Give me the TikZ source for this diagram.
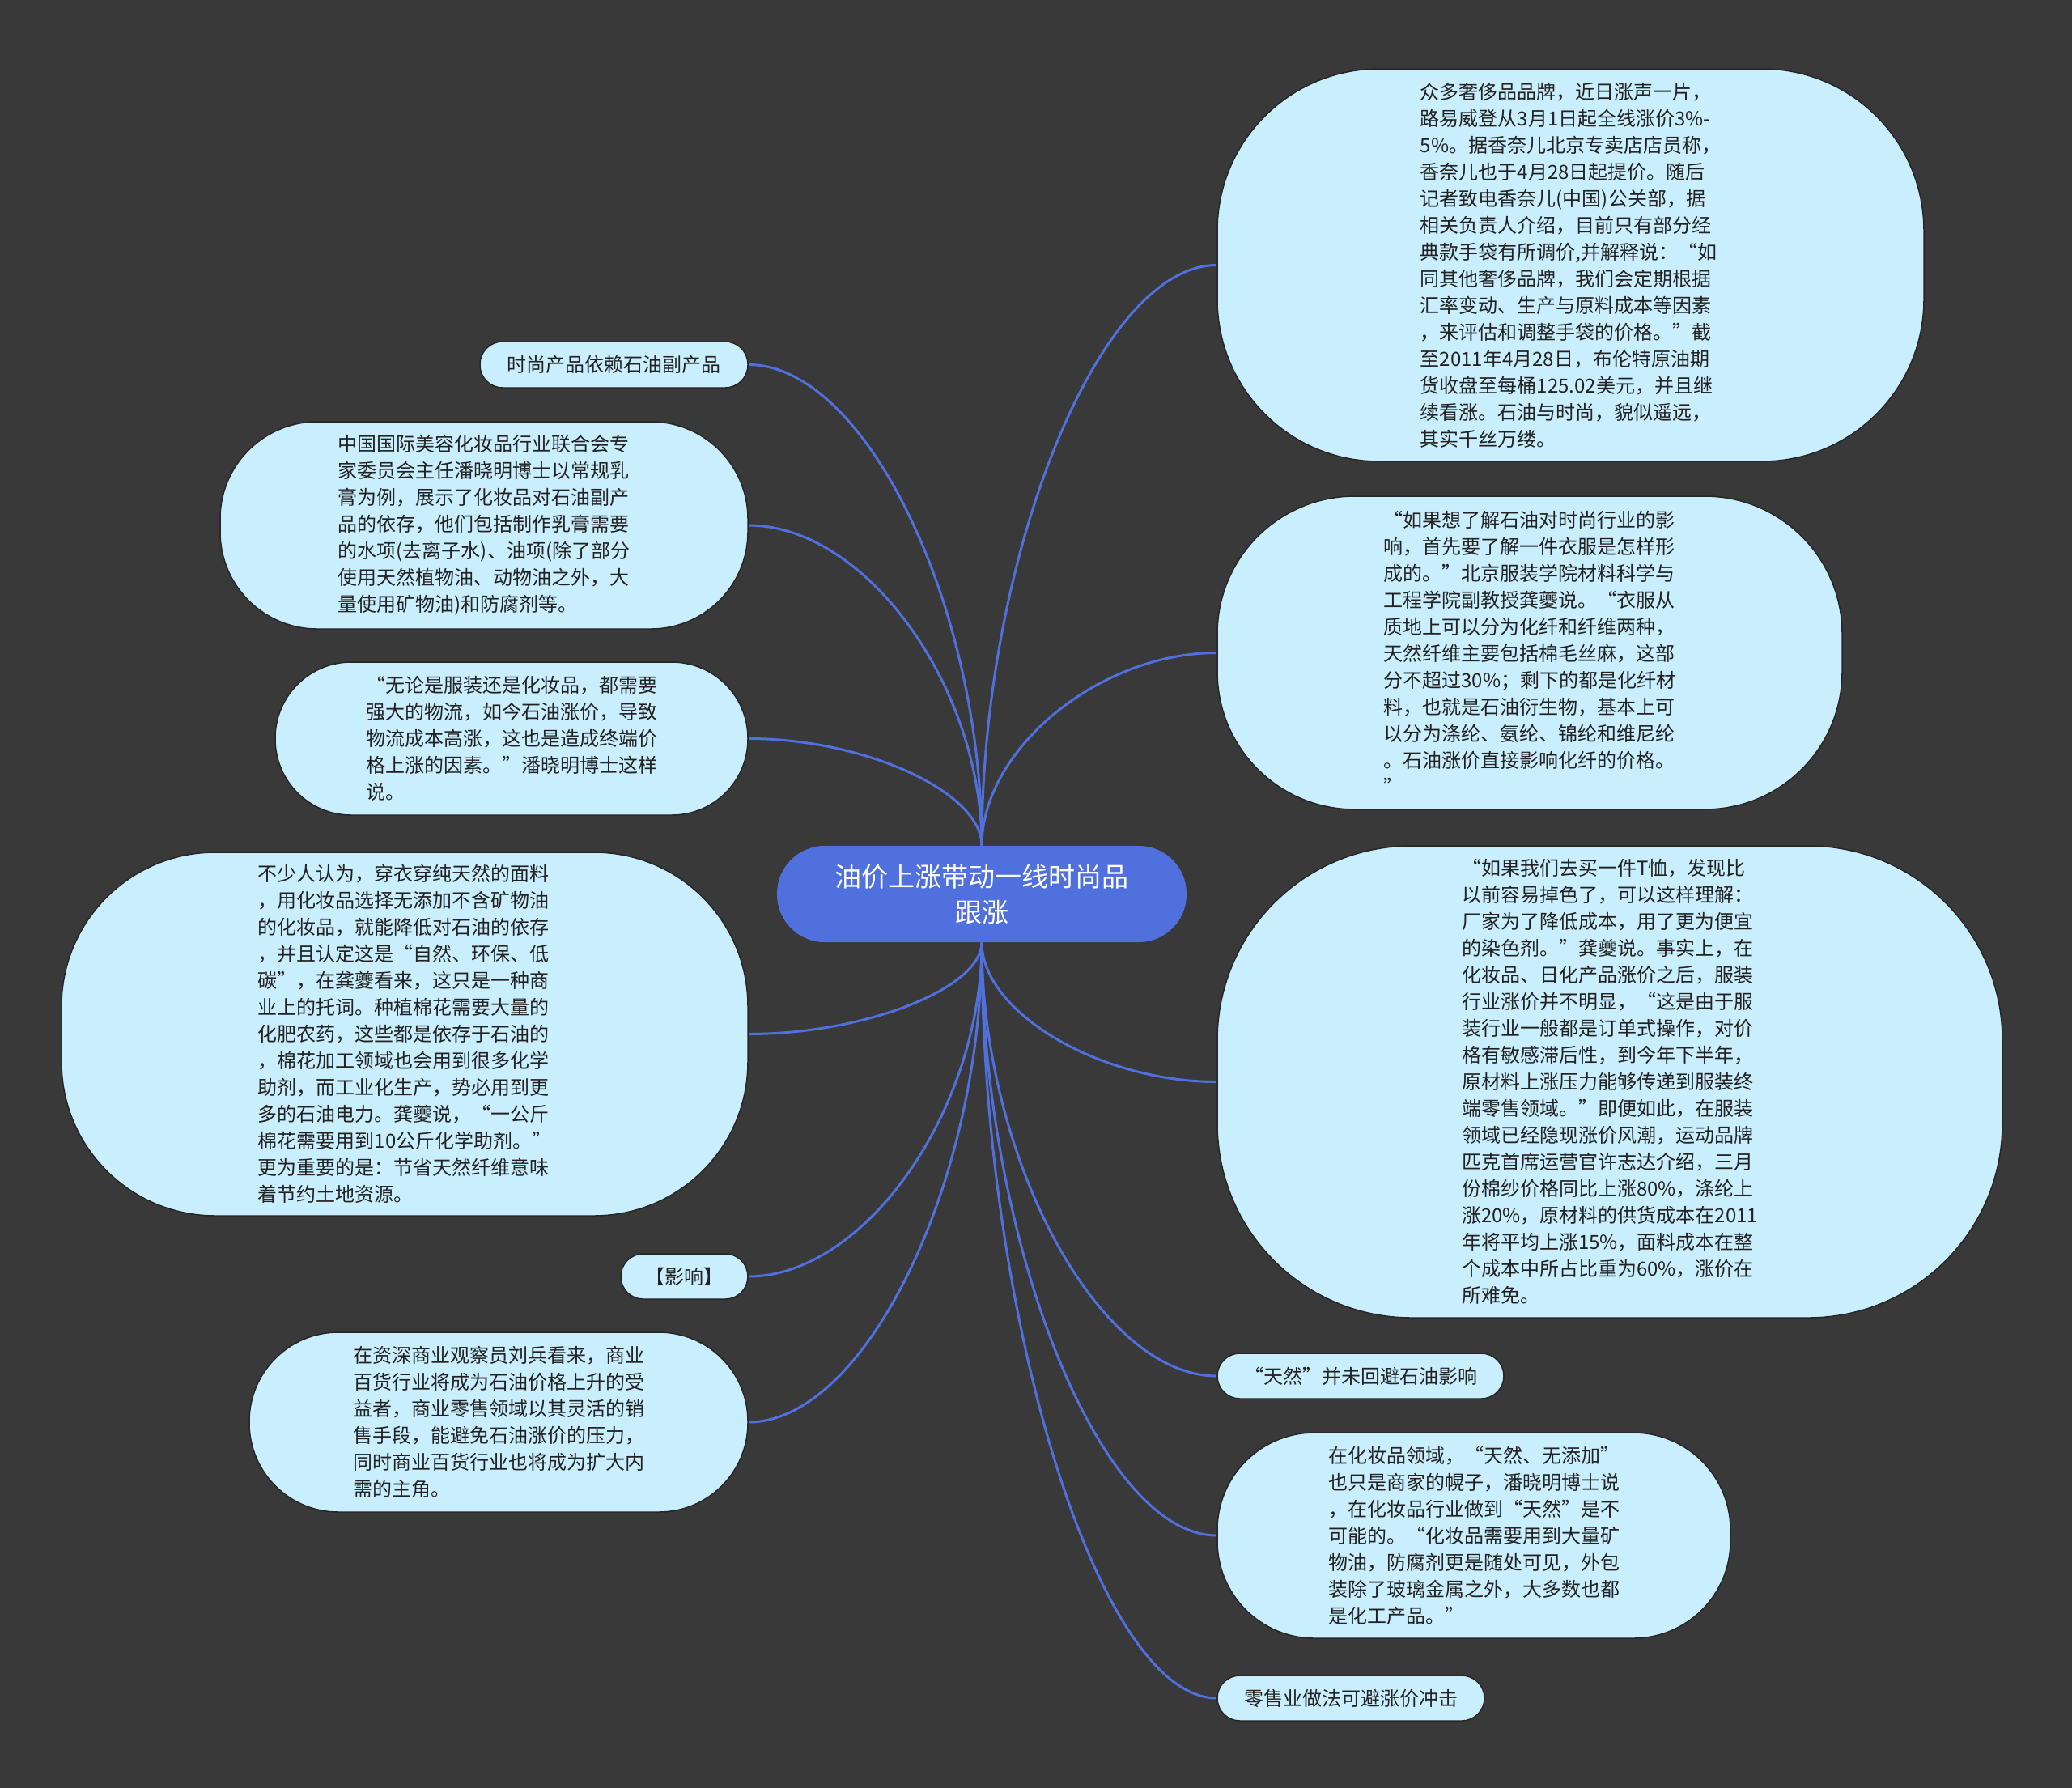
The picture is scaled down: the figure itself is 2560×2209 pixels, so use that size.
\documentclass[tikz,border=0pt]{standalone}
\usepackage{fontspec}
\setmainfont{Noto Sans CJK SC}
\usetikzlibrary{calc}
\pgfdeclarelayer{bg}
\pgfdeclarelayer{edges}
\pgfsetlayers{bg,edges,main}
\definecolor{bgc}{HTML}{3A3939}
\definecolor{nodefill}{HTML}{C9EEFD}
\definecolor{nodeline}{HTML}{262626}
\definecolor{mainblue}{HTML}{5071DD}
\definecolor{txt}{HTML}{222222}
\tikzset{
  box/.style={draw=nodeline, line width=1.5pt, fill=nodefill, text=txt, align=left, inner sep=0pt,
    font=\fontsize{24}{33}\selectfont},
  rootbox/.style={fill=mainblue, draw=none, text=white, align=center, inner sep=0pt,
    font=\fontsize{33}{44}\selectfont},
  conn/.style={draw=mainblue, line width=3pt}
}
\newcommand\mnode[7]{\node[box,minimum width=#4pt,minimum height=#5pt,rounded corners=#6pt] (#1) at (#2,#3) {#7};}
\newcommand\conn[2]{\draw[conn] (#1) .. controls ($(#1)!0.5!(#1 |- #2)$) and ($(#2)!0.5!(#1 |- #2)$) .. (#2);}
\begin{document}
\begin{tikzpicture}[x=1pt,y=-1pt]
\begin{pgfonlayer}{bg}
\fill[bgc] (0,0) rectangle (2560,2209);
\end{pgfonlayer}
\useasboundingbox (0,0) rectangle (2560,2209);

\node[rootbox, minimum width=506pt, minimum height=119pt, rounded corners=59pt] (c) at (1213,1104.5) {油价上涨带动一线时尚品\\跟涨};

\mnode{r1}{1940.5}{327.5}{873}{485}{200}{众多奢侈品品牌，近日涨声一片，\\路易威登从3月1日起全线涨价3\%-\\5\%。据香奈儿北京专卖店店员称，\\香奈儿也于4月28日起提价。随后\\记者致电香奈儿(中国)公关部，据\\相关负责人介绍，目前只有部分经\\典款手袋有所调价,并解释说：“如\\同其他奢侈品牌，我们会定期根据\\汇率变动、生产与原料成本等因素\\，来评估和调整手袋的价格。”截\\至2011年4月28日，布伦特原油期\\货收盘至每桶125.02美元，并且继\\续看涨。石油与时尚，貌似遥远，\\其实千丝万缕。}

\mnode{r2}{1890}{806.5}{772}{387}{170}{“如果想了解石油对时尚行业的影\\响，首先要了解一件衣服是怎样形\\成的。”北京服装学院材料科学与\\工程学院副教授龚夔说。“衣服从\\质地上可以分为化纤和纤维两种，\\天然纤维主要包括棉毛丝麻，这部\\分不超过30\%；剩下的都是化纤材\\料，也就是石油衍生物，基本上可\\以分为涤纶、氨纶、锦纶和维尼纶\\。石油涨价直接影响化纤的价格。\\”}

\mnode{r3}{1989}{1336.5}{970}{583}{240}{“如果我们去买一件T恤，发现比\\以前容易掉色了，可以这样理解：\\厂家为了降低成本，用了更为便宜\\的染色剂。”龚夔说。事实上，在\\化妆品、日化产品涨价之后，服装\\行业涨价并不明显，“这是由于服\\装行业一般都是订单式操作，对价\\格有敏感滞后性，到今年下半年，\\原材料上涨压力能够传递到服装终\\端零售领域。”即便如此，在服装\\领域已经隐现涨价风潮，运动品牌\\匹克首席运营官许志达介绍，三月\\份棉纱价格同比上涨80\%，涤纶上\\涨20\%，原材料的供货成本在2011\\年将平均上涨15\%，面料成本在整\\个成本中所占比重为60\%，涨价在\\所难免。}

\mnode{r4}{1681}{1700}{354}{56}{27.9}{“天然”并未回避石油影响}

\mnode{r5}{1821}{1897}{634}{254}{120}{在化妆品领域，“天然、无添加”\\也只是商家的幌子，潘晓明博士说\\，在化妆品行业做到“天然”是不\\可能的。“化妆品需要用到大量矿\\物油，防腐剂更是随处可见，外包\\装除了玻璃金属之外，大多数也都\\是化工产品。”}

\mnode{r6}{1669}{2098}{330}{56}{27.9}{零售业做法可避涨价冲击}

\mnode{l1}{758.5}{450.5}{331}{57}{28}{时尚产品依赖石油副产品}

\mnode{l2}{598}{649}{652}{256}{120}{中国国际美容化妆品行业联合会专\\家委员会主任潘晓明博士以常规乳\\膏为例，展示了化妆品对石油副产\\品的依存，他们包括制作乳膏需要\\的水项(去离子水)、油项(除了部分\\使用天然植物油、动物油之外，大\\量使用矿物油)和防腐剂等。}

\mnode{l3}{632}{912.5}{584}{189}{94}{“无论是服装还是化妆品，都需要\\强大的物流，如今石油涨价，导致\\物流成本高涨，这也是造成终端价\\格上涨的因素。”潘晓明博士这样\\说。}

\mnode{l4}{500}{1277.5}{848}{449}{190}{不少人认为，穿衣穿纯天然的面料\\，用化妆品选择无添加不含矿物油\\的化妆品，就能降低对石油的依存\\，并且认定这是“自然、环保、低\\碳”，在龚夔看来，这只是一种商\\业上的托词。种植棉花需要大量的\\化肥农药，这些都是依存于石油的\\，棉花加工领域也会用到很多化学\\助剂，而工业化生产，势必用到更\\多的石油电力。龚夔说，“一公斤\\棉花需要用到10公斤化学助剂。”\\更为重要的是：节省天然纤维意味\\着节约土地资源。}

\mnode{l5}{845.5}{1577}{157}{56}{27.9}{【影响】}

\mnode{l6}{616}{1757}{616}{222}{110}{在资深商业观察员刘兵看来，商业\\百货行业将成为石油价格上升的受\\益者，商业零售领域以其灵活的销\\售手段，能避免石油涨价的压力，\\同时商业百货行业也将成为扩大内\\需的主角。}

\begin{pgfonlayer}{edges}
\conn{c.north}{r1.west}
\conn{c.north}{r2.west}
\conn{c.south}{r3.west}
\conn{c.south}{r4.west}
\conn{c.south}{r5.west}
\conn{c.south}{r6.west}
\conn{c.north}{l1.east}
\conn{c.north}{l2.east}
\conn{c.north}{l3.east}
\conn{c.south}{l4.east}
\conn{c.south}{l5.east}
\conn{c.south}{l6.east}
\end{pgfonlayer}
\end{tikzpicture}
\end{document}
